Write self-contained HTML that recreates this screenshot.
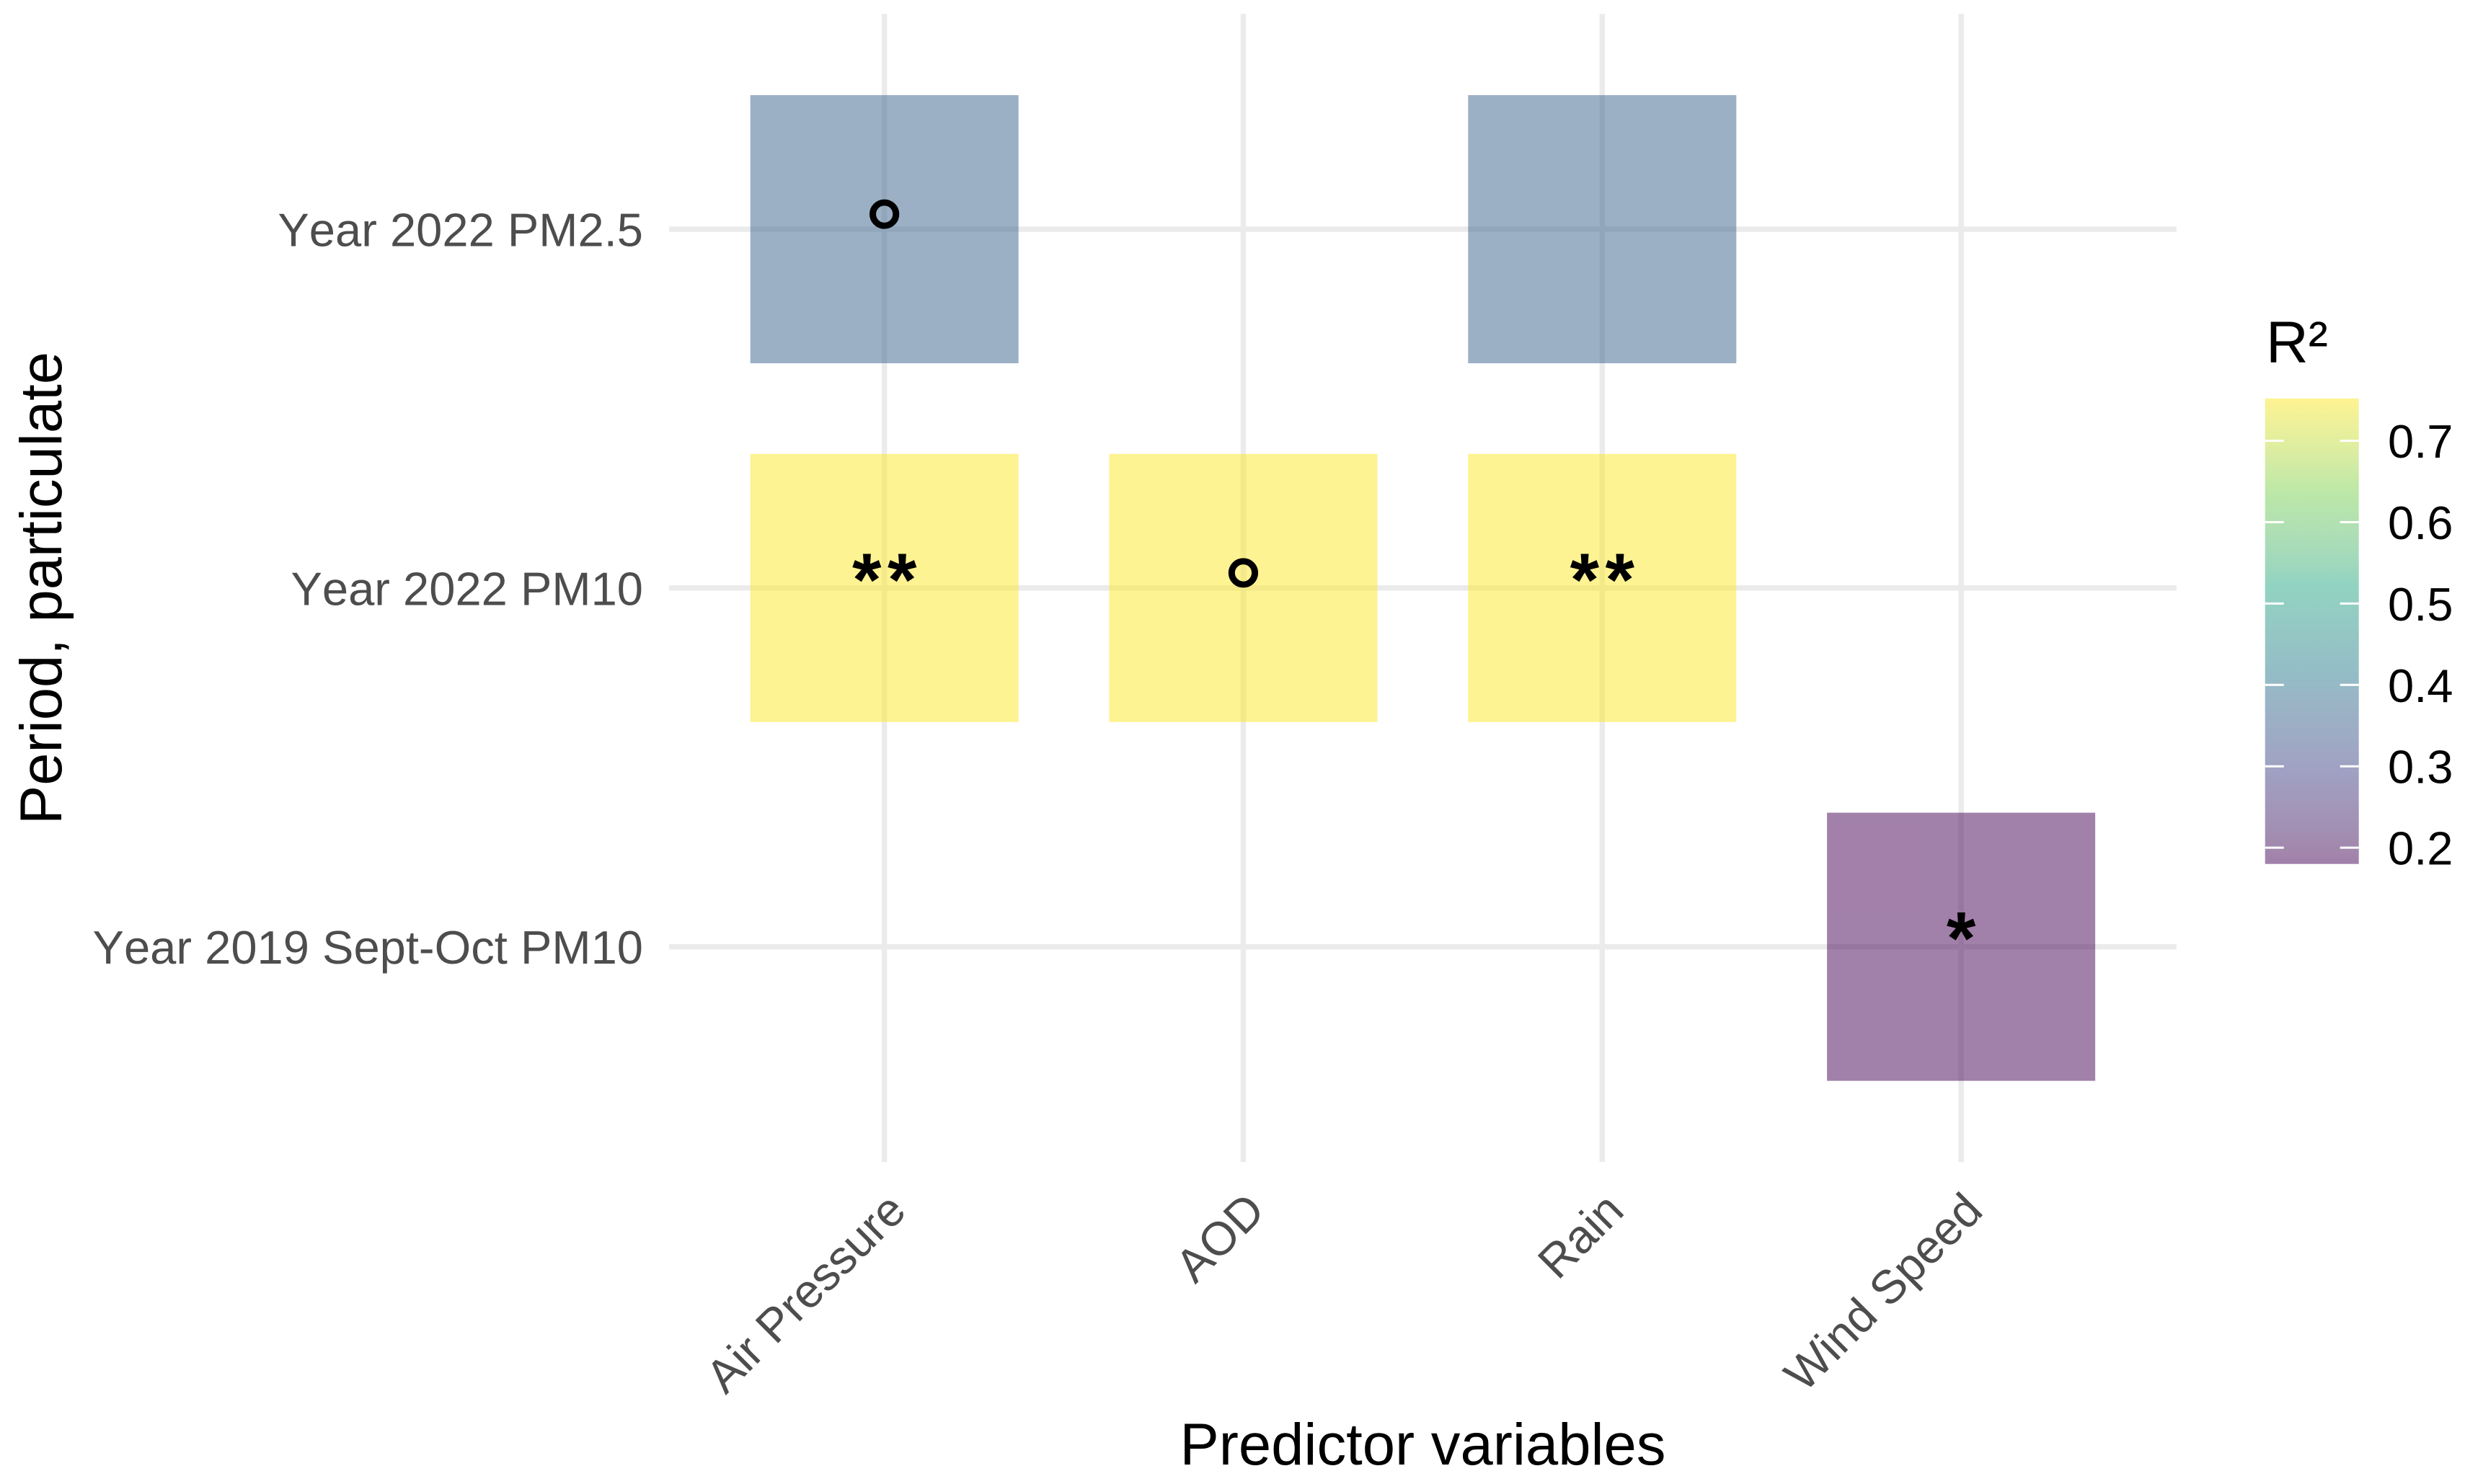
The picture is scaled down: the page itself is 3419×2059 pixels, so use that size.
<!DOCTYPE html>
<html lang="en">
<head>
<meta charset="utf-8">
<title>R² heatmap by predictor and period</title>
<style>
  html, body { margin: 0; padding: 0; background: #fff; }
  svg { display: block; }
  text { font-family: "Liberation Sans", Arial, sans-serif; font-kerning: none; }
</style>
</head>
<body>
<svg id="chart" xmlns="http://www.w3.org/2000/svg" width="3419" height="2059" viewBox="0 0 3419 2059">
  <rect width="3419" height="2059" fill="#ffffff"/>
  <g id="grid"></g>
  <g id="tiles"></g>
  <g id="marks"></g>
  <g id="y-axis"></g>
  <g id="x-axis"></g>
  <text x="1973.5" y="2032" font-size="81.4" text-anchor="middle" fill="#000">Predictor variables</text>
  <text transform="translate(85 816) rotate(-90)" font-size="81.4" text-anchor="middle" fill="#000">Period, particulate</text>
  <g id="legend">
    <text x="3143" y="503" font-size="81.4" fill="#000">R²</text>
    <defs>
      <linearGradient id="viridis-gradient" x1="0" y1="1" x2="0" y2="0"></linearGradient>
    </defs>
  </g>
</svg>
<script>
// ---- Chart data ----
const predictors = ["Air Pressure", "AOD", "Rain", "Wind Speed"];
const periods = ["Year 2022 PM2.5", "Year 2022 PM10", "Year 2019 Sept-Oct PM10"];
// R² per period (rows) and predictor (columns)
const pm25Values = [0.36, null, 0.36, null];
const pm10Values = [0.75, 0.75, 0.75, null];
const sept2019Values = [null, null, null, 0.18];
const pm25Signif = ["°", "", "", ""];
const pm10Signif = ["**", "°", "**", ""];
const sept2019Signif = ["", "", "", "*"];
const legendTicks = [0.2, 0.3, 0.4, 0.5, 0.6, 0.7];
const legendTickLabels = ["0.2", "0.3", "0.4", "0.5", "0.6", "0.7"];
const fillMin = 0.18;
const fillMax = 0.752;

const valueRows = [pm25Values, pm10Values, sept2019Values];
const signifRows = [pm25Signif, pm10Signif, sept2019Signif];

// six-colour viridis palette, interpolated in Lab space
const viridisRamp = ["#440154", "#414487", "#2A788E", "#22A884", "#7AD151", "#FDE725"];

// ---- Axis functions ----
const NS = "http://www.w3.org/2000/svg";
const STEP = 497.8;
const xScale = i => 1226.7 + i * STEP;
const yScale = j => 318 + j * STEP;
const legendY = v => 611.6 + (0.7 - v) * 1129;
const panelLeft = xScale(-0.6), panelRight = xScale(predictors.length - 1 + 0.6);
const panelTop = yScale(-0.6), panelBottom = yScale(periods.length - 1 + 0.6);
const TILE = 372;

function hexToLab(h) {
  const rgb = [1, 3, 5].map(k => parseInt(h.slice(k, k + 2), 16) / 255)
    .map(c => c > 0.04045 ? Math.pow((c + 0.055) / 1.055, 2.4) : c / 12.92);
  const x = (0.4124 * rgb[0] + 0.3576 * rgb[1] + 0.1805 * rgb[2]) / 0.95047;
  const y = 0.2126 * rgb[0] + 0.7152 * rgb[1] + 0.0722 * rgb[2];
  const z = (0.0193 * rgb[0] + 0.1192 * rgb[1] + 0.9505 * rgb[2]) / 1.08883;
  const f = t => t > 0.008856 ? Math.cbrt(t) : 7.787 * t + 16 / 116;
  return [116 * f(y) - 16, 500 * (f(x) - f(y)), 200 * (f(y) - f(z))];
}
function labToCss(lab) {
  const fy = (lab[0] + 16) / 116, fx = fy + lab[1] / 500, fz = fy - lab[2] / 200;
  const g = t => t * t * t > 0.008856 ? t * t * t : (t - 16 / 116) / 7.787;
  const x = g(fx) * 0.95047, y = g(fy), z = g(fz) * 1.08883;
  const lin = [3.2406 * x - 1.5372 * y - 0.4986 * z, -0.9689 * x + 1.8758 * y + 0.0415 * z, 0.0557 * x - 0.2040 * y + 1.0570 * z];
  const out = lin.map(c => {
    const v = c > 0.0031308 ? 1.055 * Math.pow(c, 1 / 2.4) - 0.055 : 12.92 * c;
    return Math.round(255 * Math.max(0, Math.min(1, v)));
  });
  return "rgb(" + out.join(",") + ")";
}
const rampLab = viridisRamp.map(hexToLab);
function rampColor(t) {
  const p = Math.max(0, Math.min(1, t)) * (rampLab.length - 1);
  const a = Math.min(Math.floor(p), rampLab.length - 2), f = p - a;
  return labToCss(rampLab[a].map((c, k) => c + (rampLab[a + 1][k] - c) * f));
}
function fillColor(v) {
  return rampColor((v - fillMin) / (fillMax - fillMin));
}
function make(tag, attrs, parent) {
  const el = document.createElementNS(NS, tag);
  for (const k in attrs) el.setAttribute(k, attrs[k]);
  parent.appendChild(el);
  return el;
}

const gridG = document.getElementById("grid");
const tilesG = document.getElementById("tiles");
const marksG = document.getElementById("marks");
const yAxisG = document.getElementById("y-axis");
const xAxisG = document.getElementById("x-axis");
const legendG = document.getElementById("legend");

// Grid lines and axis labels
predictors.forEach((name, i) => {
  const line = make("line", {x1: xScale(i), x2: xScale(i), y1: panelTop, y2: panelBottom, stroke: "#ebebeb", "stroke-width": 7.5}, gridG);
  
  
  const label = make("text", {transform: "translate(" + (xScale(i) + 33) + " 1683) rotate(-45)", "font-size": 65.1, "text-anchor": "end", fill: "#4d4d4d"}, xAxisG);
  label.textContent = name;
  
  
});
periods.forEach((name, j) => {
  const line = make("line", {x1: panelLeft, x2: panelRight, y1: yScale(j), y2: yScale(j), stroke: "#ebebeb", "stroke-width": 7.5}, gridG);
  
  
  const label = make("text", {x: 892, y: yScale(j) + 23.5, "font-size": 65.1, "text-anchor": "end", fill: "#4d4d4d"}, yAxisG);
  label.textContent = name;
  
  
});

// Tiles and significance marks
valueRows.forEach((row, j) => {
  row.forEach((v, i) => {
    if (v === null) return;
    const tile = make("rect", {x: xScale(i) - TILE / 2, y: yScale(j) - TILE / 2, width: TILE, height: TILE, fill: fillColor(v), "fill-opacity": 0.5}, tilesG);
    
    
    const sig = signifRows[j][i];
    if (sig) {
      const ring = sig === "°";
      const mark = make("text", {
        x: ring ? xScale(i) : xScale(i) + 4.25,
        y: yScale(j) + (ring ? 58.5 : 24),
        "font-size": ring ? 142 : 104,
        "letter-spacing": ring ? 0 : 8.5,
        "font-weight": ring ? "normal" : "bold",
        "stroke": ring ? "#000" : "none",
        "stroke-width": ring ? 1.5 : 0,
        "text-anchor": "middle",
        fill: "#000"
      }, marksG);
      mark.textContent = sig;
      
      
    }
  });
});

// Colour bar
const grad = document.getElementById("viridis-gradient");
for (let k = 0; k <= 60; k++) {
  make("stop", {offset: k / 60, "stop-color": rampColor(k / 60)}, grad);
}
const bar = make("rect", {x: 3141.7, y: legendY(fillMax), width: 130, height: legendY(fillMin) - legendY(fillMax), fill: "url(#viridis-gradient)", "fill-opacity": 0.5}, legendG);


legendTicks.forEach((v, k) => {
  const y = legendY(v);
  const left = make("line", {x1: 3141.7, x2: 3167.7, y1: y, y2: y, stroke: "#fff", "stroke-width": 3}, legendG);
  
  
  const right = make("line", {x1: 3245.7, x2: 3271.7, y1: y, y2: y, stroke: "#fff", "stroke-width": 3}, legendG);
  
  
  const label = make("text", {x: 3312, y: y + 23.5, "font-size": 65.1, fill: "#000"}, legendG);
  label.textContent = legendTickLabels[k];
  
  
});
</script>
</body>
</html>
